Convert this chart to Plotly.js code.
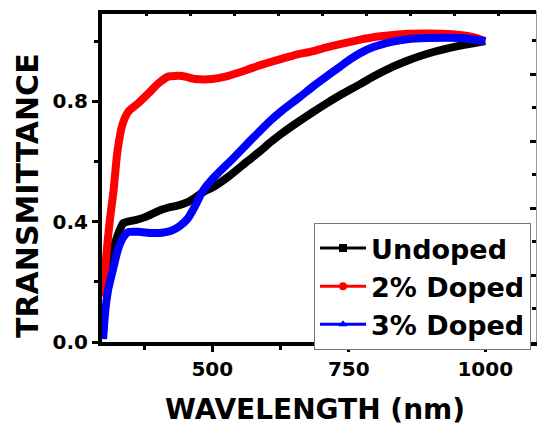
<!DOCTYPE html>
<html>
<head>
<meta charset="utf-8">
<script src="https://cdn.plot.ly/plotly-3.0.1.min.js"></script>
<style>
  html, body { margin: 0; padding: 0; background: #fff; }
  #chart { width: 538px; height: 431px; }
</style>
</head>
<body>
<div id="chart"></div>
<script>
// ---- data ----
const undopedWl = [300, 305, 310, 316, 322, 330, 337, 345, 359, 377, 395, 408, 420, 438, 455, 469, 485, 500, 530, 564, 588, 606, 625, 648, 685, 711, 734, 771, 795, 831, 857, 894, 918, 954, 978, 1000];
const undopedT  = [0.20, 0.24, 0.27, 0.30, 0.33, 0.37, 0.395, 0.40, 0.405, 0.415, 0.43, 0.44, 0.447, 0.454, 0.465, 0.48, 0.50, 0.513, 0.55, 0.60, 0.635, 0.663, 0.69, 0.72, 0.765, 0.795, 0.82, 0.857, 0.882, 0.915, 0.935, 0.958, 0.97, 0.985, 0.993, 1.0];

const doped2Wl = [300, 305, 312, 319, 326, 335, 346, 364, 383, 401, 419, 445, 469, 500, 524, 564, 588, 625, 648, 685, 711, 734, 771, 795, 831, 857, 894, 918, 954, 978, 1000];
const doped2T  = [0.15, 0.27, 0.40, 0.50, 0.63, 0.72, 0.765, 0.793, 0.826, 0.859, 0.882, 0.884, 0.874, 0.874, 0.882, 0.905, 0.92, 0.94, 0.952, 0.967, 0.98, 0.99, 1.005, 1.013, 1.02, 1.024, 1.025, 1.024, 1.02, 1.013, 1.0];

const doped3Wl = [300, 302, 305, 310, 318, 327, 336, 346, 364, 390, 408, 425, 440, 455, 468, 482, 502, 538, 570, 606, 625, 661, 685, 711, 734, 753, 771, 795, 831, 857, 894, 954, 1000];
const doped3T  = [0.01, 0.06, 0.12, 0.18, 0.24, 0.306, 0.345, 0.365, 0.366, 0.362, 0.363, 0.37, 0.385, 0.41, 0.45, 0.50, 0.545, 0.61, 0.67, 0.735, 0.765, 0.815, 0.85, 0.885, 0.915, 0.94, 0.96, 0.98, 0.998, 1.006, 1.01, 1.01, 1.0];

const seriesNames = ['Undoped', '2% Doped', '3% Doped'];
const seriesColors = ['#000000', '#ff0000', '#0000ff'];
const seriesSymbols = ['square', 'circle', 'triangle-up'];

const yTickLabels = ['0.0', '0.4', '0.8'];
const xTickLabels = ['500', '750', '1000'];
const xTitle = 'WAVELENGTH (nm)';
const yTitle = 'TRANSMITTANCE';

const FONT = '"DejaVu Sans", sans-serif';

const wls = [undopedWl, doped2Wl, doped3Wl];
const ts = [undopedT, doped2T, doped3T];

const traces = [];
// thick curves
for (let i = 0; i < 3; i++) {
  traces.push({
    x: wls[i], y: ts[i], type: 'scatter', mode: 'lines',
    line: { color: seriesColors[i], width: 8, shape: 'spline', smoothing: 0.6 },
    showlegend: false, hoverinfo: 'skip'
  });
}
// legend entries
for (let i = 0; i < 3; i++) {
  traces.push({
    x: [null], y: [null], type: 'scatter', mode: 'lines+markers',
    name: seriesNames[i],
    line: { color: seriesColors[i], width: 3 },
    marker: { color: seriesColors[i], symbol: seriesSymbols[i], size: 8 },
    showlegend: true
  });
}
// empty traces so the frame axes (top ticks / right ticks) are drawn
traces.push({ x: [null], y: [null], yaxis: 'y2', type: 'scatter', mode: 'lines', showlegend: false, hoverinfo: 'skip' });
traces.push({ x: [null], y: [null], xaxis: 'x2', type: 'scatter', mode: 'lines', showlegend: false, hoverinfo: 'skip' });

const L = 102, R = 2, T = 11, B = 89;
const W = 538, H = 431;
const pw = W - L - R, ph = H - T - B;

const layout = {
  width: W, height: H,
  margin: { l: L, r: R, t: T, b: B, pad: 0 },
  paper_bgcolor: '#ffffff', plot_bgcolor: '#ffffff',
  font: { family: FONT, color: '#000' },
  showlegend: true,
  xaxis: {
    range: [298, 1093],
    tickvals: xTickLabels.map(Number), ticktext: xTickLabels,
    ticks: 'outside', ticklen: 6, tickwidth: 3, tickcolor: '#000',
    minor: { tickvals: [375, 625, 875], ticks: 'outside', ticklen: 4, tickwidth: 3, tickcolor: '#000' },
    showline: true, linecolor: '#000', linewidth: 4,
    showgrid: false, zeroline: false,
    tickfont: { family: FONT, size: 20, color: '#000', weight: 'bold' }
  },
  xaxis2: {
    overlaying: 'x', side: 'top', anchor: 'y',
    range: [0, 434], tick0: 0, dtick: 44.1,
    ticks: 'inside', ticklen: 5, tickwidth: 3, tickcolor: '#000',
    showticklabels: false, showline: false,
    showgrid: false, zeroline: false
  },
  yaxis: {
    range: [0, 1.1],
    tickvals: yTickLabels.map(Number), ticktext: yTickLabels,
    ticks: 'outside', ticklen: 6, tickwidth: 3, tickcolor: '#000',
    minor: { tickvals: [0.2, 0.6, 1.0], ticks: 'outside', ticklen: 4, tickwidth: 3, tickcolor: '#000' },
    showline: true, linecolor: '#000', linewidth: 4,
    showgrid: false, zeroline: false,
    tickfont: { family: FONT, size: 20, color: '#000', weight: 'bold' }
  },
  yaxis2: {
    overlaying: 'y', side: 'right', anchor: 'x',
    range: [0, 331], tick0: 0, dtick: 66.9,
    ticks: 'inside', ticklen: 6, tickwidth: 3, tickcolor: '#000',
    minor: { dtick: 33.45, ticks: 'inside', ticklen: 4, tickwidth: 3, tickcolor: '#000' },
    showticklabels: false, showline: true, linecolor: '#999', linewidth: 1,
    showgrid: false, zeroline: false
  },
  shapes: [
    // top frame line
    {
      type: 'line', xref: 'paper', yref: 'paper', layer: 'above',
      x0: -4 / pw, x1: 1, y0: 1 - 1 / ph, y1: 1 - 1 / ph,
      line: { color: '#000', width: 4 }
    }
  ],
  legend: {
    x: (314 - L) / pw, y: (H - B - 223) / ph,
    xanchor: 'left', yanchor: 'top',
    bgcolor: '#ffffff', bordercolor: '#777', borderwidth: 1,
    font: { family: FONT, size: 27, color: '#000', weight: 'bold' },
    itemwidth: 46, tracegroupgap: 0
  },
  annotations: [
    {
      text: xTitle, xref: 'paper', yref: 'paper',
      x: (315 - L) / pw, y: (H - B - 409) / ph,
      xanchor: 'center', yanchor: 'middle', showarrow: false,
      font: { family: FONT, size: 28, color: '#000', weight: 'bold' }
    },
    {
      text: yTitle, xref: 'paper', yref: 'paper', textangle: -90,
      x: (27 - L) / pw, y: (H - B - 196) / ph,
      xanchor: 'center', yanchor: 'middle', showarrow: false,
      font: { family: FONT, size: 30, color: '#000', weight: 'bold' }
    }
  ]
};

Plotly.newPlot('chart', traces, layout, { displayModeBar: false, staticPlot: true });
</script>
</body>
</html>
